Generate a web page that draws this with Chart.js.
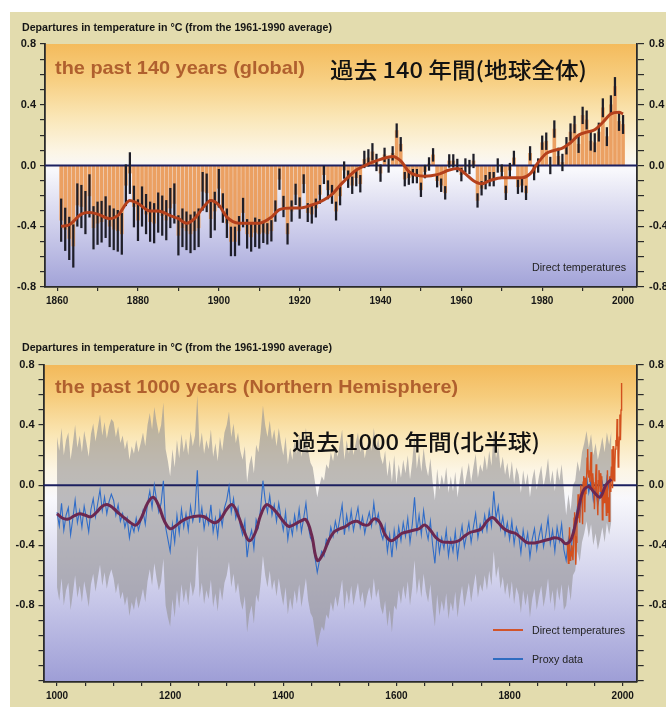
<!DOCTYPE html>
<html><head><meta charset="utf-8">
<script src="https://cdn.jsdelivr.net/npm/chart.js@4.4.1/dist/chart.umd.min.js"></script>
<style>
html,body{margin:0;padding:0;background:#fff;width:666px;height:707px;overflow:hidden;position:relative;}
#bg{position:absolute;left:10px;top:12px;width:656px;height:695px;background:#e3dcae;}
canvas{position:absolute;left:0;}
.t{position:absolute;white-space:nowrap;line-height:1;transform-origin:0 50%;}
.sub{font-family:'Liberation Sans Narrow','Liberation Sans',Arial,sans-serif;font-weight:bold;font-size:11px;color:#161616;}
.en{font-family:'Liberation Sans',Arial,sans-serif;font-weight:bold;font-size:19px;color:#b0602e;}
.ja{font-family:'Noto Sans CJK JP',sans-serif;font-weight:500;font-size:22px;color:#121212;}
.lg{font-family:'Liberation Sans Narrow','Liberation Sans',Arial,sans-serif;font-size:10.5px;color:#222;}
.ln{position:absolute;height:1.6px;width:30px;}
</style>
</head><body>
<div id="bg"></div>
<canvas id="c1" width="666" height="320" style="top:0"></canvas>
<canvas id="c2" width="666" height="377" style="top:330px"></canvas>

<div class="t sub" data-w="310" data-cy="27" style="left:22px">Departures in temperature in °C (from the 1961-1990 average)</div>
<div class="t en" data-w="250" data-cy="67" style="left:55px">the past 140 years (global)</div>
<div class="t ja" data-w="257" data-cy="68" style="left:330px">過去 140 年間(地球全体)</div>
<div class="t lg" data-w="94" data-cy="267" style="left:532px">Direct temperatures</div>

<div class="t sub" data-w="310" data-cy="347" style="left:22px">Departures in temperature in °C (from the 1961-1990 average)</div>
<div class="t en" data-w="403" data-cy="386" style="left:55px">the past 1000 years (Northern Hemisphere)</div>
<div class="t ja" data-w="248" data-cy="440" style="left:292px">過去 1000 年間(北半球)</div>
<div class="ln" style="left:493px;top:629px;background:#d2542a"></div>
<div class="t lg" data-w="93" data-cy="630" style="left:532px">Direct temperatures</div>
<div class="ln" style="left:493px;top:658px;background:#2f6cc0"></div>
<div class="t lg" data-w="51" data-cy="659" style="left:532px">Proxy data</div>

<script>
// ---------- Panel 1: global, 1861-2000 ----------
const globalStartYear = 1861;
const globalAnomaly = [
 -0.36,-0.42,-0.48,-0.53,-0.26,-0.27,-0.31,-0.20,-0.41,-0.38,
 -0.37,-0.34,-0.40,-0.42,-0.43,-0.45,-0.13,-0.05,-0.27,-0.36,
 -0.27,-0.32,-0.37,-0.38,-0.31,-0.33,-0.36,-0.28,-0.25,-0.46,
 -0.41,-0.43,-0.45,-0.43,-0.41,-0.17,-0.18,-0.35,-0.30,-0.15,
 -0.28,-0.38,-0.50,-0.50,-0.43,-0.31,-0.45,-0.47,-0.44,-0.45,
 -0.44,-0.45,-0.43,-0.30,-0.09,-0.27,-0.45,-0.30,-0.19,-0.28,
 -0.12,-0.31,-0.32,-0.28,-0.19,-0.06,-0.16,-0.19,-0.30,-0.20,
 -0.03,-0.09,-0.13,-0.08,-0.12,0.04,0.05,0.09,0.02,-0.05,
 0.07,0.00,0.08,0.23,0.14,-0.09,-0.08,-0.07,-0.07,-0.16,
 -0.04,0.01,0.07,-0.10,-0.13,-0.18,0.03,0.03,0.00,-0.06,
 0.00,-0.01,0.03,-0.23,-0.15,-0.11,-0.09,-0.09,0.00,-0.04,
 -0.18,-0.03,0.05,-0.14,-0.13,-0.18,0.08,-0.05,0.00,0.15,
 0.16,0.00,0.24,0.06,0.02,0.13,0.22,0.27,0.14,0.33,
 0.30,0.16,0.15,0.22,0.38,0.19,0.40,0.52,0.29,0.27
];
// half-length of the uncertainty bar, one value per decade (1861-70 ... 1991-2000)
const globalErrByDecade = [0.14,0.135,0.13,0.125,0.095,0.068,0.06,0.055,0.045,0.042,0.045,0.045,0.055,0.06];
const globalSmoothYears = [1861,1863,1866,1868,1870,1873,1875,1878,1880,1883,1885,1888,1890,1892,1894,1896,1898,1900,1902,1905,1908,1910,1913,1915,1918,1920,1923,1925,1928,1930,1934,1937,1940,1943,1945,1947,1949,1951,1954,1957,1959,1961,1963,1965,1967,1970,1973,1975,1977,1979,1981,1983,1985,1987,1989,1991,1993,1995,1997,1999,2000];
const globalSmoothVals  = [-0.40,-0.39,-0.32,-0.31,-0.32,-0.35,-0.33,-0.23,-0.25,-0.30,-0.30,-0.33,-0.35,-0.38,-0.35,-0.28,-0.23,-0.26,-0.34,-0.38,-0.38,-0.38,-0.34,-0.29,-0.28,-0.28,-0.26,-0.24,-0.19,-0.13,-0.03,0.01,0.04,0.06,0.03,-0.04,-0.065,-0.07,-0.06,-0.03,-0.02,-0.055,-0.10,-0.12,-0.10,-0.08,-0.08,-0.08,-0.055,0.02,0.08,0.10,0.115,0.15,0.20,0.22,0.235,0.285,0.34,0.35,0.34];
const yTickLabels = ['0.8','0.4','0.0','-0.4','-0.8'];
const xTicks1 = [1860,1870,1880,1890,1900,1910,1920,1930,1940,1950,1960,1970,1980,1990,2000];
const xLabels1 = [1860,1880,1900,1920,1940,1960,1980,2000];

// ---------- Panel 2: Northern Hemisphere, 1000-1999 ----------
const proxyStartYear = 1000, proxyStep = 4;
const proxy1000s = [-0.18,-0.27,-0.12,-0.30,-0.20,-0.15,-0.33,-0.22,-0.10,-0.25,-0.17,-0.28,-0.14,-0.22,-0.31,-0.16,-0.09,-0.21,-0.12,-0.03,-0.17,-0.08,-0.19,-0.11,-0.06];
const proxy1100s = [-0.10,-0.20,-0.13,-0.24,-0.19,-0.28,-0.22,-0.35,-0.26,-0.31,-0.22,-0.30,-0.24,-0.17,-0.26,-0.12,-0.04,-0.15,0.00,-0.10,-0.18,-0.12,0.03,-0.28,-0.36];
const proxy1200s = [-0.44,-0.26,-0.38,-0.20,-0.32,-0.16,-0.28,-0.19,-0.30,-0.14,-0.24,-0.17,0.10,-0.25,-0.15,-0.29,-0.20,-0.26,-0.13,-0.31,-0.22,-0.34,-0.18,-0.27,-0.15];
const proxy1300s = [-0.10,-0.01,-0.18,-0.09,-0.22,-0.15,-0.27,-0.33,-0.24,-0.48,-0.36,-0.30,-0.42,-0.23,-0.28,-0.15,0.03,-0.10,-0.18,-0.07,-0.20,-0.13,-0.24,-0.12,-0.22];
const proxy1400s = [-0.30,-0.18,-0.36,-0.25,-0.33,-0.20,-0.29,-0.16,-0.31,-0.22,-0.12,-0.27,-0.35,-0.38,-0.48,-0.58,-0.50,-0.44,-0.47,-0.36,-0.39,-0.28,-0.34,-0.24,-0.31];
const proxy1500s = [-0.22,-0.13,-0.33,-0.20,-0.29,-0.17,-0.30,-0.22,-0.15,-0.28,-0.21,-0.32,-0.24,-0.18,-0.27,-0.12,-0.25,-0.19,-0.31,-0.36,-0.27,-0.44,-0.33,-0.48,-0.30];
const proxy1600s = [-0.41,-0.28,-0.37,-0.25,-0.34,-0.22,-0.38,-0.26,-0.08,-0.31,-0.20,-0.33,-0.17,-0.29,-0.36,-0.24,-0.40,-0.52,-0.31,-0.45,-0.35,-0.42,-0.30,-0.47,-0.36];
const proxy1700s = [-0.44,-0.31,-0.48,-0.36,-0.27,-0.41,-0.33,-0.25,-0.38,-0.28,-0.19,-0.35,-0.26,-0.31,-0.20,-0.30,-0.17,-0.27,-0.04,-0.22,-0.14,-0.29,-0.21,-0.33,-0.25];
const proxy1800s = [-0.36,-0.24,-0.39,-0.28,-0.33,-0.45,-0.30,-0.40,-0.32,-0.48,-0.36,-0.29,-0.43,-0.34,-0.27,-0.41,-0.33,-0.22,-0.39,-0.30,-0.44,-0.28,-0.37,-0.26,-0.43];
const proxy1900s = [-0.50,-0.36,-0.47,-0.30,-0.27,-0.14,-0.21,-0.08,-0.02,0.06,-0.05,0.04,-0.10,-0.02,-0.13,-0.06,0.02,-0.08,0.05,-0.03,0.06];
// half-width of the grey uncertainty band, one value per century (1000s ... 1900s)
const bandHalfWidthByCentury = [0.5,0.52,0.5,0.5,0.5,0.5,0.42,0.4,0.4,0.3];
const nhSmoothStart = 1000, nhSmoothStep = 10;
const nhSmooth = [
 -0.19,-0.22,-0.225,-0.205,-0.19,-0.20,-0.21,-0.18,-0.14,-0.13,
 -0.155,-0.19,-0.22,-0.25,-0.265,-0.21,-0.12,-0.08,-0.14,-0.24,
 -0.29,-0.27,-0.24,-0.22,-0.21,-0.205,-0.21,-0.235,-0.25,-0.22,
 -0.16,-0.13,-0.20,-0.30,-0.37,-0.32,-0.20,-0.13,-0.15,-0.19,
 -0.24,-0.275,-0.26,-0.24,-0.23,-0.33,-0.50,-0.46,-0.37,-0.31,
 -0.29,-0.275,-0.25,-0.24,-0.26,-0.265,-0.225,-0.245,-0.33,-0.37,
 -0.35,-0.32,-0.31,-0.30,-0.29,-0.265,-0.30,-0.35,-0.375,-0.38,
 -0.38,-0.37,-0.34,-0.315,-0.305,-0.29,-0.24,-0.215,-0.25,-0.29,
 -0.31,-0.32,-0.35,-0.38,-0.385,-0.38,-0.37,-0.36,-0.35,-0.36,
 -0.39,-0.35,-0.19,-0.04,-0.01,-0.05,-0.08,0.00,0.04
];
const nhDirectStart = 1902;
const nhDirect = [
 -0.38,-0.46,-0.52,-0.42,-0.28,-0.50,-0.44,-0.47,-0.40,-0.46,
 -0.50,-0.40,-0.22,-0.18,-0.34,-0.53,-0.38,-0.26,-0.24,-0.06,
 -0.22,-0.18,-0.25,-0.06,0.00,-0.10,-0.05,-0.26,0.02,0.06,
 0.03,-0.18,0.05,-0.06,0.02,0.18,0.24,0.08,0.05,0.10,
 0.02,0.14,0.22,0.04,-0.02,0.08,0.02,-0.02,-0.16,-0.02,
 0.04,0.14,-0.04,-0.10,-0.20,0.03,0.10,0.05,-0.04,0.08,
 0.04,0.06,-0.23,-0.16,-0.08,-0.04,-0.12,0.00,-0.04,-0.20,
 -0.14,0.10,-0.18,-0.08,-0.24,0.06,-0.04,0.04,0.12,0.24,
 -0.02,0.26,0.05,0.03,0.12,0.24,0.30,0.26,0.44,0.36,
 0.12,0.18,0.32,0.47,0.30,0.50,0.68
];
const xTicks2 = [1000,1050,1100,1150,1200,1250,1300,1350,1400,1450,1500,1550,1600,1650,1700,1750,1800,1850,1900,1950,2000];
const xLabels2 = [1000,1200,1400,1600,1800,2000];

// ---------- build datasets ----------
const gYears = globalAnomaly.map((_, i) => globalStartYear + i);
const barData = gYears.map((yr, i) => ({x: yr, y: globalAnomaly[i]}));
const errData = gYears.map((yr, i) => {
  const e = globalErrByDecade[Math.floor(i / 10)];
  return {x: yr, y: [globalAnomaly[i] - e, globalAnomaly[i] + e]};
});
const smooth1 = globalSmoothYears.map((yr, i) => ({x: yr, y: globalSmoothVals[i]}));

const proxyAll = [].concat(proxy1000s, proxy1100s, proxy1200s, proxy1300s, proxy1400s, proxy1500s, proxy1600s, proxy1700s, proxy1800s, proxy1900s);
const proxyPts = proxyAll.map((v, i) => ({x: proxyStartYear + i * proxyStep, y: v}));
const halfW = x => bandHalfWidthByCentury[Math.min(9, Math.floor((x - 1000) / 100))];
const bandUp = proxyPts.map(p => ({x: p.x, y: p.y + halfW(p.x)}));
const bandLo = proxyPts.map(p => ({x: p.x, y: p.y - halfW(p.x)}));
const smooth2 = nhSmooth.map((v, i) => ({x: nhSmoothStart + i * nhSmoothStep, y: v}));
const directPts = nhDirect.map((v, i) => ({x: nhDirectStart + i, y: v}));

// ---------- shared styling ----------
const FONT = "'Liberation Sans', Arial, sans-serif";
const AX = '#2a2a2a';
function yTickValues(min, max) {
  const out = [];
  for (let r = Math.ceil(min * 10 - 1e-6); r <= Math.floor(max * 10 + 1e-6); r++) out.push({value: r / 10});
  return out;
}
function yLabel(v) {
  const s = (Math.round(v * 10) / 10).toFixed(1);
  return yTickLabels.includes(s) ? s : '';
}
function yAxis(pos, min, max, width, tickLen, pad) {
  return {
    type: 'linear', position: pos, min: min, max: max,
    afterFit: s => { s.width = width; },
    afterBuildTicks: s => { s.ticks = yTickValues(min, max); },
    border: {display: true, color: AX, width: 1.8},
    grid: {display: true, drawOnChartArea: false, drawTicks: true, tickLength: tickLen, color: AX, lineWidth: 1.2},
    ticks: {autoSkip: false, padding: pad, color: '#161616',
      font: {family: FONT, size: 11, weight: 'bold'}, callback: yLabel}
  };
}
function xAxis(min, max, tickList, labelList, height) {
  return {
    type: 'linear', position: 'bottom', min: min, max: max, offset: false,
    afterFit: s => { s.height = height; },
    afterBuildTicks: s => { s.ticks = tickList.map(v => ({value: v})); },
    border: {display: true, color: AX, width: 1.8},
    grid: {display: true, offset: false, drawOnChartArea: false, drawTicks: true, tickLength: 4, color: AX, lineWidth: 1.2},
    ticks: {autoSkip: false, maxRotation: 0, padding: 4, color: '#161616',
      font: {family: FONT, size: 10, weight: 'bold'},
      callback: v => (labelList.includes(Math.round(v)) ? String(Math.round(v)) : '')}
  };
}
function gradPlugin(stops) {
  return {
    id: 'bgGrad',
    beforeDraw(chart) {
      const a = chart.chartArea, ctx = chart.ctx;
      const g = ctx.createLinearGradient(0, a.top, 0, a.bottom);
      stops.forEach(s => g.addColorStop(s[0], s[1]));
      ctx.save(); ctx.fillStyle = g; ctx.fillRect(a.left, a.top, a.right - a.left, a.bottom - a.top); ctx.restore();
    }
  };
}
const zeroPlugin = {
  id: 'zeroLine',
  afterDatasetDraw(chart, args) {
    const ds = chart.data.datasets[args.index];
    if (!ds.zeroAfter) return;
    const a = chart.chartArea, ctx = chart.ctx, y = chart.scales.y.getPixelForValue(0);
    ctx.save(); ctx.strokeStyle = '#1c2060'; ctx.lineWidth = 2;
    ctx.beginPath(); ctx.moveTo(a.left, y); ctx.lineTo(a.right, y); ctx.stroke(); ctx.restore();
  }
};
const baseOpts = {responsive: false, animation: false, devicePixelRatio: 1,
  plugins: {legend: {display: false}, tooltip: {enabled: false}}};

// ---------- chart 1 ----------
new Chart(document.getElementById('c1'), {
  type: 'bar',
  data: {datasets: [
    {type: 'line', data: smooth1, borderColor: '#b4401c', borderWidth: 3, pointRadius: 0, cubicInterpolationMode: 'monotone', order: 1},
    {type: 'bar', data: errData, backgroundColor: '#1e1e28', barThickness: 1.6, grouped: false, order: 2},
    {type: 'bar', data: barData, backgroundColor: '#eba062', barThickness: 3, grouped: false, order: 4, zeroAfter: true}
  ]},
  options: Object.assign({}, baseOpts, {
    layout: {padding: {top: 44, left: 0, right: 0, bottom: 0}},
    scales: {
      x: xAxis(1857.0, 2003.45, xTicks1, xLabels1, 33),
      y: yAxis('left', -0.8, 0.8, 45, 5, 4),
      y2: yAxis('right', -0.8, 0.8, 29, 7, 5)
    }
  }),
  plugins: [gradPlugin([[0,'#f4bb5c'],[0.15,'#f7cf82'],[0.3,'#fae6b6'],[0.44,'#fcf5e4'],[0.52,'#f8f8fc'],[0.65,'#e0e0f2'],[0.8,'#c6c6e8'],[1,'#a2a3d8']]), zeroPlugin]
});

// ---------- chart 2 ----------
new Chart(document.getElementById('c2'), {
  type: 'line',
  data: {datasets: [
    {data: bandUp, borderWidth: 0, pointRadius: 0, fill: '+1', backgroundColor: 'rgba(150,148,150,0.62)', order: 6},
    {data: bandLo, borderWidth: 0, pointRadius: 0, fill: false, order: 5, zeroAfter: true},
    {data: proxyPts, borderColor: '#2f6cc8', borderWidth: 1.1, pointRadius: 0, fill: false, order: 3},
    {data: directPts, borderColor: '#d2501e', borderWidth: 1.4, pointRadius: 0, fill: false, order: 2},
    {data: smooth2, borderColor: '#6c2850', borderWidth: 3, pointRadius: 0, tension: 0.4, fill: false, order: 1}
  ]},
  options: Object.assign({}, baseOpts, {
    layout: {padding: {top: 35, left: 0, right: 0, bottom: 0}},
    scales: {
      x: xAxis(976.1, 2024.7, xTicks2, xLabels2, 25),
      y: yAxis('left', -1.31, 0.8, 43.5, 5, 4),
      y2: yAxis('right', -1.31, 0.8, 29.3, 7, 5)
    }
  }),
  plugins: [gradPlugin([[0,'#f3b95a'],[0.1,'#f6cc7c'],[0.22,'#fae6b4'],[0.33,'#fcf5e4'],[0.42,'#f8f8fc'],[0.55,'#e4e4f3'],[0.75,'#c6c6e8'],[1,'#9e9ed6']]), zeroPlugin]
});

// ---------- fit text boxes to the reference widths ----------
function fitTexts() {
  document.querySelectorAll('.t').forEach(el => {
    el.style.transform = 'none';
    const r = el.getBoundingClientRect();
    const target = parseFloat(el.dataset.w), cy = parseFloat(el.dataset.cy);
    el.style.top = (cy - r.height / 2) + 'px';
    el.style.transform = 'scaleX(' + (target / r.width) + ')';
  });
}
fitTexts();
if (document.fonts && document.fonts.ready) document.fonts.ready.then(fitTexts);
</script>
</body></html>
